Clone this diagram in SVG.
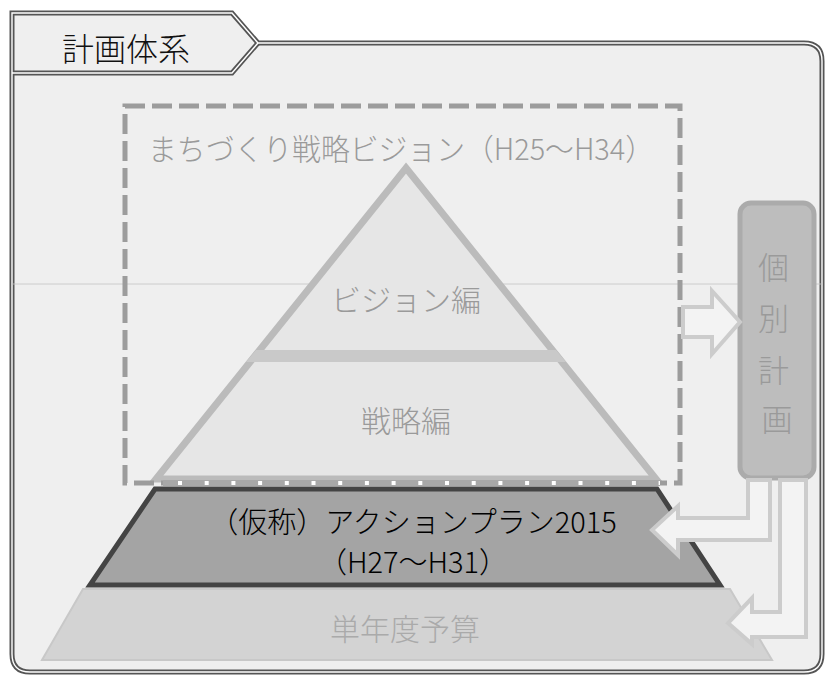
<svg xmlns="http://www.w3.org/2000/svg" width="826" height="675" viewBox="0 0 826 675">
<style>
.jp{font-family:"Noto Sans CJK JP","Noto Sans",sans-serif;font-weight:300;}
.gt{fill:#9a9a9a;}
.frame{fill:none;stroke:#555;stroke-width:5;}
.frameIn{fill:none;stroke:#fff;stroke-width:1.4;}
.hollow{fill:#f3f3f3;stroke:#cccccc;stroke-width:4;stroke-linejoin:miter;}
</style>
<rect width="826" height="675" fill="#fff"/>
<g id="frame">
<path d="M12,13 H232 L258,43 H804 Q822,43 822,61 V654 Q822,672 804,672 H30 Q12,672 12,654 Z" fill="#efefef"/>
<path class="frame" d="M12,13 H232 L258,43 H804 Q822,43 822,61 V654 Q822,672 804,672 H30 Q12,672 12,654 Z"/>
<path class="frame" d="M12,73 H232 L258,43"/>
<path class="frameIn" d="M12,13 H232 L258,43 H804 Q822,43 822,61 V654 Q822,672 804,672 H30 Q12,672 12,654 Z"/>
<path class="frameIn" d="M12,73 H232 L258,43"/>
<text class="jp" x="62" y="61" font-size="32" fill="#111">計画体系</text>
</g>
<line x1="12" y1="284" x2="822" y2="284" stroke="#c4c4c4" stroke-width="0.8"/>
<g id="strategy">
<polygon points="406,168 656,479 156,479" fill="#e6e6e6" stroke="#bbbbbb" stroke-width="7" stroke-linejoin="miter"/>
<polygon points="256,350 556,350 566,362 246,362" fill="#c9c9c9"/>
<text class="jp gt" x="406" y="311" font-size="30" text-anchor="middle">ビジョン編</text>
<text class="jp gt" x="406" y="432" font-size="30" text-anchor="middle">戦略編</text>
</g>
<g id="vision-frame">
<rect x="125" y="106" width="555" height="377" fill="none" stroke="#9c9c9c" stroke-width="5" stroke-dasharray="20 7"/>
<line x1="163" y1="483" x2="660" y2="483" stroke="#a8a8a8" stroke-width="6"/>
<line x1="178" y1="483" x2="660" y2="483" stroke="#fff" stroke-width="4" stroke-dasharray="4 22.7"/>
<text class="jp gt" x="148" y="160" font-size="30" textLength="506" lengthAdjust="spacingAndGlyphs">まちづくり戦略ビジョン（H25〜H34）</text>
</g>
<g id="budget">
<polygon points="83,589 730,589 772,660 42,660" fill="#d3d3d3" stroke="#c8c8c8" stroke-width="2"/>
<text class="jp" x="405" y="640" font-size="30" fill="#aaaaaa" text-anchor="middle">単年度予算</text>
</g>
<g id="action-plan">
<polygon points="155,489 657,489 720,585 90,585" fill="#a4a4a4" stroke="#444" stroke-width="5"/>
<text class="jp" x="413" y="533" font-size="29" fill="#000" font-weight="400" text-anchor="middle">（仮称）アクションプラン2015</text>
<text class="jp" x="413" y="573" font-size="29" fill="#000" font-weight="400" text-anchor="middle">（H27〜H31）</text>
</g>
<g id="individual-plans">
<rect x="740" y="203" width="74" height="275" rx="11" fill="#bdbdbd" stroke="#ababab" stroke-width="5"/>
<text class="jp" font-size="31" fill="#9a9a9a" text-anchor="middle">
<tspan x="777" y="279">個</tspan>
<tspan x="777" y="330">別</tspan>
<tspan x="777" y="382">計</tspan>
<tspan x="777" y="431">画</tspan>
</text>
</g>
<g id="connectors">
<polygon class="hollow" points="683,307 712,307 712,291 740,322 712,354 712,337 683,337"/>
<polygon class="hollow" points="770,480 770,540 678,540 678,555 652,530 678,506 678,518 748,518 748,480"/>
<polygon class="hollow" points="806,480 806,637 752,637 752,644 728,623 752,598 752,612 780,612 780,480"/>
</g>
</svg>
